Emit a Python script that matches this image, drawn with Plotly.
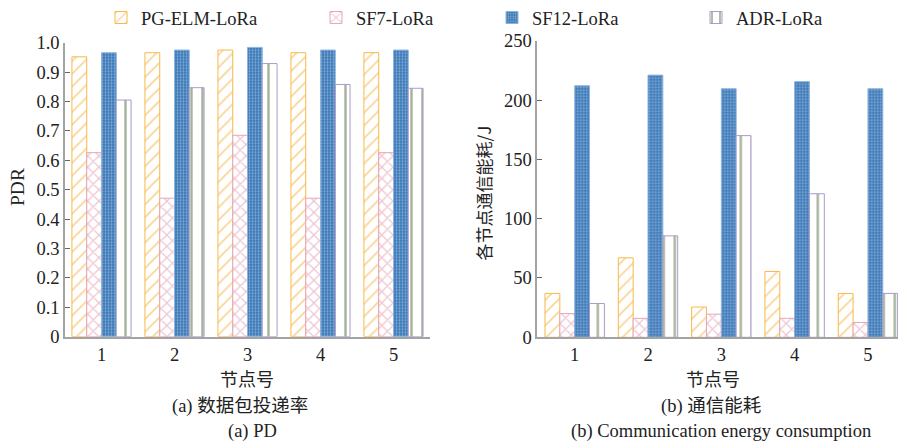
import plotly.graph_objects as go

# ---- data -------------------------------------------------------------
nodes = [1, 2, 3, 4, 5]
series_names = ["PG-ELM-LoRa", "SF7-LoRa", "SF12-LoRa", "ADR-LoRa"]

pdr_pg_elm = [0.952, 0.966, 0.975, 0.966, 0.966]
pdr_sf7 = [0.626, 0.471, 0.685, 0.471, 0.626]
pdr_sf12 = [0.966, 0.975, 0.984, 0.975, 0.975]
pdr_adr = [0.805, 0.847, 0.929, 0.858, 0.845]

energy_pg_elm = [37, 67, 25.5, 55.5, 37]
energy_sf7 = [20, 16, 19.5, 16, 12.5]
energy_sf12 = [212, 221, 209.5, 215.5, 209.5]
energy_adr = [28.5, 85.5, 170, 121, 37]

pdr_tickvals = [0, 0.1, 0.2, 0.3, 0.4, 0.5, 0.6, 0.7, 0.8, 0.9, 1.0]
pdr_ticktext = ["0", "0.1", "0.2", "0.3", "0.4", "0.5", "0.6", "0.7", "0.8", "0.9", "1.0"]
energy_tickvals = [0, 50, 100, 150, 200, 250]
energy_ticktext = ["0", "50", "100", "150", "200", "250"]

# ---- styling ----------------------------------------------------------
W, H = 903, 444
SERIF = "Liberation Serif, Noto Sans CJK SC, serif"
CJK = "Noto Sans CJK SC, Liberation Serif, sans-serif"
AXIS_GREY = "#a3a3a3"
TICK_GREY = "#666666"
TEXT = "#222222"

styles = [
    dict(color="#ffffff", line="#f7b84b",
         pattern=dict(shape="/", fgcolor="#f4ab33", bgcolor="#ffffff", size=9, solidity=0.2)),
    dict(color="#ffffff", line="#e7a5b8",
         pattern=dict(shape="x", fgcolor="#de8da7", bgcolor="#ffffff", size=8, solidity=0.3)),
    dict(color="#3a78b8", line="#8db4de",
         pattern=dict(shape=".", fgcolor="#dfeaf6", bgcolor="#3a78b8", size=3, solidity=0.35)),
    dict(color="#ffffff", line="#a99bcb",
         pattern=dict(shape="|", fgcolor="#4f6636", bgcolor="#ffffff", size=11, solidity=0.22)),
]

pdr_series = [pdr_pg_elm, pdr_sf7, pdr_sf12, pdr_adr]
energy_series = [energy_pg_elm, energy_sf7, energy_sf12, energy_adr]
legend_ids = ["legend", "legend2", "legend3", "legend4"]


def px(x):
    return x / W


def py(y):
    return 1 - y / H


fig = go.Figure()

for i, (name, st) in enumerate(zip(series_names, styles)):
    marker = dict(color=st["color"], line=dict(color=st["line"], width=1),
                  pattern=st["pattern"])
    fig.add_trace(go.Bar(x=nodes, y=pdr_series[i], name=name, marker=marker,
                         xaxis="x", yaxis="y", legend=legend_ids[i],
                         legendgroup=name, showlegend=True))
    fig.add_trace(go.Bar(x=nodes, y=energy_series[i], name=name, marker=marker,
                         xaxis="x2", yaxis="y2", legend=legend_ids[i],
                         legendgroup=name, showlegend=False))

axis_common = dict(showline=True, linecolor=AXIS_GREY, linewidth=1.5,
                   showgrid=False, zeroline=False,
                   tickfont=dict(family=SERIF, size=18.5, color=TEXT))

fig.update_layout(
    width=W, height=H,
    margin=dict(l=0, r=0, t=0, b=0, autoexpand=False),
    paper_bgcolor="white", plot_bgcolor="white",
    barmode="group", bargap=0.19, bargroupgap=0,
    xaxis=dict(domain=[px(65), px(430)], range=[0.5, 5.5], tickvals=nodes,
               ticks="", anchor="y", **axis_common),
    yaxis=dict(domain=[py(336.7), py(42.7)], range=[0, 1.0], tickvals=pdr_tickvals,
               ticktext=pdr_ticktext, ticks="inside", ticklen=5, tickcolor=TICK_GREY,
               anchor="x", **axis_common),
    xaxis2=dict(domain=[px(537.3), px(898)], range=[0.49, 5.41], tickvals=nodes,
                ticks="", anchor="y2", **axis_common),
    yaxis2=dict(domain=[py(337.3), py(40.7)], range=[0, 250], tickvals=energy_tickvals,
                ticktext=energy_ticktext, ticks="inside", ticklen=5, tickcolor=TICK_GREY,
                anchor="x2", **axis_common),
)

# one legend box per series so each key sits at its own spot along the top
legend_text_x = [142, 357, 533, 737]
for lid, tx in zip(legend_ids, legend_text_x):
    fig.update_layout({lid: dict(x=px(tx - 41), y=py(18), xanchor="left", yanchor="middle",
                                 orientation="h", bgcolor="rgba(0,0,0,0)",
                                 font=dict(family=SERIF, size=18.5, color=TEXT))})

# axis titles and captions
annots = [
    dict(text="PDR", x=17, y=187, angle=-90, font=SERIF, size=19.5),
    dict(text="各节点通信能耗/J", x=482.5, y=193, angle=-90, font=CJK, size=17),
    dict(text="节点号", x=247, y=378, angle=0, font=CJK, size=18),
    dict(text="节点号", x=713, y=378, angle=0, font=CJK, size=18),
    dict(text="(a) 数据包投递率", x=240, y=406, angle=0, font=SERIF, size=18.5),
    dict(text="(b) 通信能耗", x=711, y=406, angle=0, font=SERIF, size=18.5),
    dict(text="(a) PD", x=252, y=431, angle=0, font=SERIF, size=18.5),
    dict(text="(b) Communication energy consumption", x=721, y=431, angle=0, font=SERIF, size=18.5),
]
for a in annots:
    fig.add_annotation(text=a["text"], x=px(a["x"]), y=py(a["y"]), xref="paper", yref="paper",
                       xanchor="center", yanchor="middle", showarrow=False,
                       textangle=a["angle"], font=dict(family=a["font"], size=a["size"], color=TEXT))

fig.write_html("out.html")
